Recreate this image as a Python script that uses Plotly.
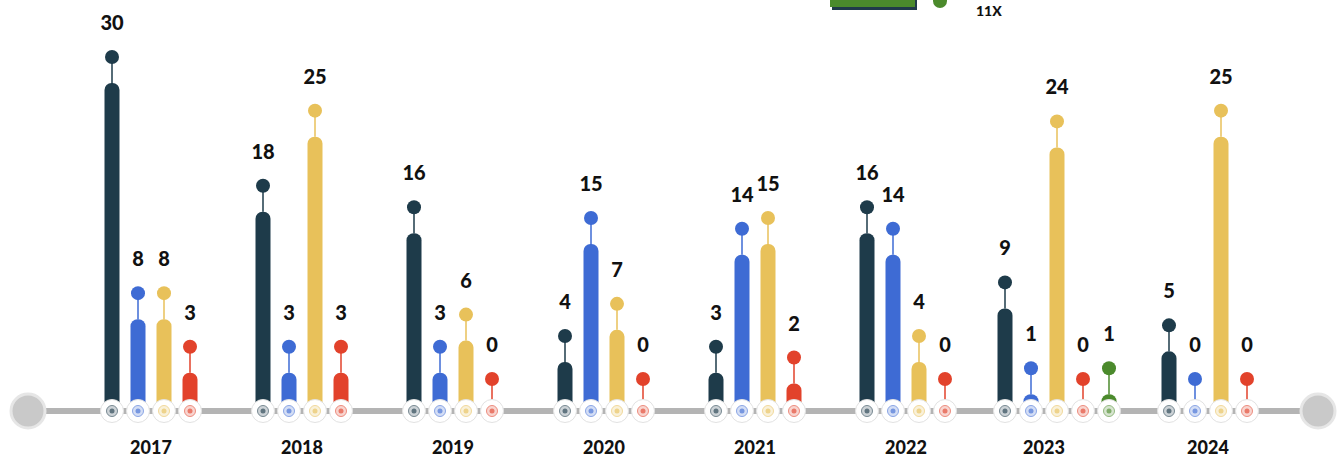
import plotly.graph_objects as go

# ---- data ----
years = ["2017", "2018", "2019", "2020", "2021", "2022", "2023", "2024"]
navy_vals = [30, 18, 16, 4, 3, 16, 9, 5]
blue_vals = [8, 3, 3, 15, 14, 14, 1, 0]
yellow_vals = [8, 25, 6, 7, 15, 4, 24, 25]
red_vals = [3, 3, 0, 0, 2, 0, 0, 0]
green_vals = [None, None, None, None, None, None, 1, None]
legend_label = "11X"

series = [
    ("navy", navy_vals, "#1e3b4a"),
    ("blue", blue_vals, "#3e6bd4"),
    ("yellow", yellow_vals, "#e8c15a"),
    ("red", red_vals, "#e2422b"),
    ("green", green_vals, "#4b8a2c"),
]

# ---- geometry (px -> data units) ----
W, H = 1343, 472
PX_X = 151.0          # px per year
X0_PX = 151.0         # px of first year centre
PX_Y = 322.0 / 30.0   # px per value unit
BASE_PX = 405.0       # px of value 0

SLOT = 26.0 / PX_X
BARW = 15.0 / PX_X
DOT_OFF = 26.0 / PX_Y
LAB_OFF = 32.0 / PX_Y
AXIS_Y = -(411.0 - BASE_PX) / PX_Y
YEAR_Y = -(449.0 - BASE_PX) / PX_Y

x_range = [-X0_PX / PX_X, (W - X0_PX) / PX_X]
y_range = [-(H - BASE_PX) / PX_Y, BASE_PX / PX_Y]


def tint(hex_color, f):
    h = hex_color.lstrip("#")
    r, g, b = (int(h[i:i + 2], 16) for i in (0, 2, 4))
    r, g, b = (int(c + (255 - c) * f) for c in (r, g, b))
    return f"rgb({r},{g},{b})"


# slot positions per year
pos = {name: [None] * len(years) for name, _, _ in series}
year_x = []
for i in range(len(years)):
    present = [name for name, vals, _ in series if vals[i] is not None]
    n = len(present)
    xs = [i + (k - (n - 1) / 2) * SLOT for k in range(n)]
    for name, x in zip(present, xs):
        pos[name][i] = x
    m = min(n, 4)
    year_x.append(sum(xs[:m]) / m)

fig = go.Figure()

# axis line and end caps
fig.add_trace(go.Scatter(
    x=[(28 - X0_PX) / PX_X, (1318 - X0_PX) / PX_X], y=[AXIS_Y, AXIS_Y],
    mode="lines", line=dict(color="#b4b4b4", width=6), hoverinfo="skip"))
fig.add_trace(go.Scatter(
    x=[(28 - X0_PX) / PX_X, (1318 - X0_PX) / PX_X], y=[AXIS_Y, AXIS_Y],
    mode="markers", marker=dict(size=34, color="#c9c9c9", line=dict(width=3, color="#e6e6e6")),
    hoverinfo="skip"))

for name, vals, col in series:
    xs = [pos[name][i] for i in range(len(years)) if vals[i] is not None]
    vs = [v for v in vals if v is not None]
    # bars
    fig.add_trace(go.Bar(
        x=xs, y=vs, width=BARW, marker=dict(color=col, line=dict(width=0)),
        hoverinfo="skip"))
    # stems
    sx, sy = [], []
    for x, v in zip(xs, vs):
        sx += [x, x, None]
        sy += [v, v + DOT_OFF, None]
    fig.add_trace(go.Scatter(x=sx, y=sy, mode="lines",
                             line=dict(color=col, width=1.5), hoverinfo="skip"))
    # dots
    fig.add_trace(go.Scatter(x=xs, y=[v + DOT_OFF for v in vs], mode="markers",
                             marker=dict(size=14, color=col), hoverinfo="skip"))
    # value labels
    fig.add_trace(go.Scatter(
        x=xs, y=[v + DOT_OFF + LAB_OFF for v in vs], mode="text",
        text=[str(v) for v in vs],
        textfont=dict(family="Lato", size=20, color="#111111", weight=900),
        hoverinfo="skip"))
    # axis rings
    fig.add_trace(go.Scatter(
        x=xs, y=[AXIS_Y] * len(xs), mode="markers",
        marker=dict(size=23, color="white", line=dict(width=1, color="#e2e2e2")),
        hoverinfo="skip"))
    fig.add_trace(go.Scatter(
        x=xs, y=[AXIS_Y] * len(xs), mode="markers",
        marker=dict(size=11, color=tint(col, 0.78), line=dict(width=1, color=tint(col, 0.4))),
        hoverinfo="skip"))
    fig.add_trace(go.Scatter(
        x=xs, y=[AXIS_Y] * len(xs), mode="markers",
        marker=dict(size=5, color=tint(col, 0.3)),
        hoverinfo="skip"))

# year labels
fig.add_trace(go.Scatter(
    x=year_x, y=[YEAR_Y] * len(years), mode="text", text=years,
    textfont=dict(family="Lato", size=18, color="#111111", weight=900),
    hoverinfo="skip"))

# partially visible legend at top
green = series[4][2]
fig.add_shape(type="rect", xref="paper", yref="paper",
              x0=832 / W, x1=917 / W, y0=1 - 10 / H, y1=1 + 10 / H,
              fillcolor="#203a4a", line=dict(width=0))
fig.add_shape(type="rect", xref="paper", yref="paper",
              x0=830 / W, x1=915 / W, y0=1 - 7 / H, y1=1 + 10 / H,
              fillcolor=green, line=dict(width=0))
fig.add_shape(type="circle", xref="paper", yref="paper",
              x0=933 / W, x1=947 / W, y0=1 - 8 / H, y1=1 + 6 / H,
              fillcolor=green, line=dict(width=0))
fig.add_annotation(x=974 / W, y=1, xref="paper", yref="paper",
                   text=legend_label, showarrow=False, yanchor="top", xanchor="left",
                   font=dict(family="Lato", size=14, color="#111111", weight=900))

fig.update_layout(
    width=W, height=H, margin=dict(l=0, r=0, t=0, b=0),
    barmode="overlay", barcornerradius=7, showlegend=False,
    plot_bgcolor="white", paper_bgcolor="white",
    xaxis=dict(visible=False, range=x_range, fixedrange=True),
    yaxis=dict(visible=False, range=y_range, fixedrange=True),
)

fig.write_html("out.html", config={"displayModeBar": False},
               post_script="document.body.style.margin='0';")
